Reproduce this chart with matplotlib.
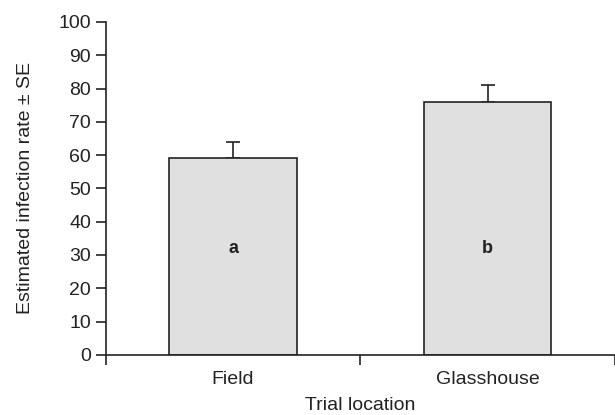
import numpy as np
from matplotlib import pyplot as plt

plt.rcParams['font.family'] = ['Liberation Sans', 'DejaVu Sans']

locations = ['Field', 'Glasshouse']
rates = [59, 76]
se = [5, 5]
letters = ['a', 'b']
letter_y = 32

fig = plt.figure(figsize=(6.15, 4.15), dpi=100)
ax = fig.add_axes([0.172, 0.145, 0.828, 0.802])

x = np.arange(len(locations))
ax.bar(x, rates, width=0.5, color='#e0e0e0', edgecolor='#222222', linewidth=1.2, zorder=2)
ax.errorbar(x, rates, yerr=[np.zeros(len(se)), se], fmt='none', ecolor='#222222',
            elinewidth=1.2, capsize=5, capthick=1.2, zorder=1)
for xi, lab in zip(x, letters):
    ax.text(xi, letter_y, lab, ha='center', va='center', fontsize=13, fontweight='bold', color='#222222')

ax.set_xlim(-0.5, 1.5)
ax.set_ylim(0, 100)
ax.set_yticks(np.arange(0, 101, 10))
ax.set_xticks(x)
ax.set_xticklabels(locations)
ax.set_xticks([-0.5, 0.5, 1.5], minor=True)
ax.tick_params(axis='x', which='major', length=0, pad=12, labelsize=14, colors='#222222')
ax.tick_params(axis='x', which='minor', length=7, width=1.2, color='#222222')
ax.tick_params(axis='y', length=7, width=1.2, labelsize=14, colors='#222222')

for s in ['top', 'right']:
    ax.spines[s].set_visible(False)
for s in ['left', 'bottom']:
    ax.spines[s].set_linewidth(1.2)
    ax.spines[s].set_color('#222222')

ax.set_xlabel('Trial location', fontsize=14, color='#222222', labelpad=6)
ax.set_ylabel('Estimated infection rate \u00b1 SE', fontsize=14, color='#222222', labelpad=18)

fig.savefig('out.png', dpi=100)
